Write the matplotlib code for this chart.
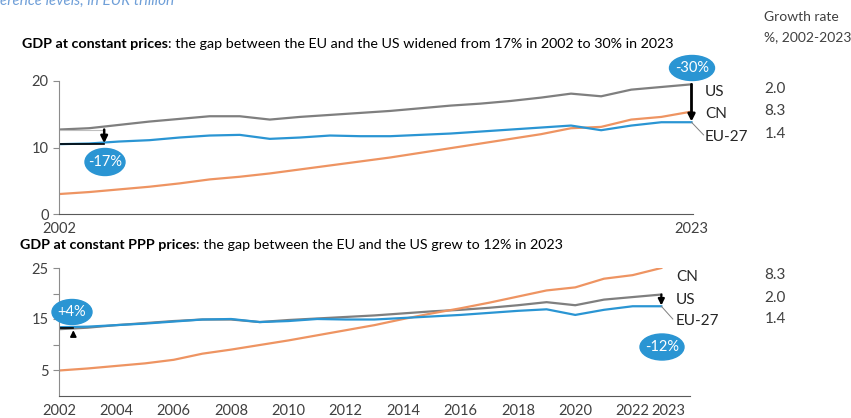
import matplotlib.pyplot as plt
from matplotlib.patches import Ellipse

plt.rcParams['font.family'] = ['Lato', 'DejaVu Sans']

years = list(range(2002, 2024))

# GDP at constant prices, EUR trillion
us_const = [12.7, 12.9, 13.4, 13.9, 14.3, 14.7, 14.7, 14.2, 14.6, 14.9, 15.2,
            15.5, 15.9, 16.3, 16.6, 17.0, 17.5, 18.1, 17.7, 18.7, 19.1, 19.5]
eu_const = [10.5, 10.6, 10.9, 11.1, 11.5, 11.8, 11.9, 11.3, 11.5, 11.8, 11.7,
            11.7, 11.9, 12.1, 12.4, 12.7, 13.0, 13.3, 12.6, 13.3, 13.8, 13.8]
cn_const = [3.0, 3.3, 3.7, 4.1, 4.6, 5.2, 5.6, 6.1, 6.7, 7.3, 7.9,
            8.5, 9.2, 9.9, 10.6, 11.3, 12.0, 12.9, 13.1, 14.2, 14.6, 15.4]

# GDP at constant PPP prices
us_ppp = [13.0, 13.3, 13.8, 14.2, 14.6, 14.9, 14.9, 14.4, 14.8, 15.1, 15.4,
          15.7, 16.1, 16.5, 16.8, 17.2, 17.7, 18.3, 17.7, 18.8, 19.3, 19.8]
eu_ppp = [13.4, 13.5, 13.8, 14.1, 14.5, 14.9, 15.0, 14.4, 14.6, 15.0, 14.9,
          14.9, 15.2, 15.5, 15.8, 16.2, 16.6, 16.9, 15.8, 16.8, 17.5, 17.5]
cn_ppp = [4.9, 5.3, 5.8, 6.3, 7.0, 8.2, 9.0, 9.9, 10.8, 11.8, 12.8,
          13.8, 15.0, 16.1, 17.1, 18.2, 19.4, 20.6, 21.2, 22.9, 23.6, 25.0]

growth_const = {"US": "2.0", "CN": "8.3", "EU-27": "1.4"}
growth_ppp = {"CN": "8.3", "US": "2.0", "EU-27": "1.4"}

C_US = "#7f7f7f"
C_EU = "#2a95d3"
C_CN = "#ee9462"
C_BUB = "#2a95d3"
C_TXT = "#262626"
C_TICK = "#404040"

fig = plt.figure(figsize=(8.51, 4.18), dpi=100)


def style_axis(ax):
    ax.spines['top'].set_visible(False)
    ax.spines['right'].set_visible(False)
    ax.spines['left'].set_color("#8c8c8c")
    ax.spines['bottom'].set_color("#595959")
    ax.tick_params(axis='y', colors="#8c8c8c", labelcolor=C_TICK, labelsize=10.5, length=4)
    ax.tick_params(axis='x', length=0, labelcolor=C_TICK, labelsize=10.5, pad=6)


def bubble(ax, x, y, text, w, h):
    ax.add_patch(Ellipse((x, y), w, h, transform=ax.transAxes, color=C_BUB,
                         clip_on=False, zorder=5))
    ax.text(x, y, text, transform=ax.transAxes, ha='center', va='center',
            color='white', fontsize=10.5, zorder=6)


def gap_arrow(ax, x, y_from, y_to, lw, ms=9):
    ax.annotate("", xy=(x, y_to), xytext=(x, y_from),
                arrowprops=dict(arrowstyle="-|>", color="black", lw=lw,
                                mutation_scale=ms, shrinkA=0, shrinkB=0))


# ---- top panel
ax1 = fig.add_axes([59 / 851, 1 - 214 / 418, (693 - 59) / 851, (214 - 81) / 418])
ax1.plot(years, us_const, color=C_US, lw=1.6)
ax1.plot(years, cn_const, color=C_CN, lw=1.6)
ax1.plot(years, eu_const, color=C_EU, lw=1.6)
ax1.set_xlim(2002, 2023.05)
ax1.set_ylim(0, 20)
ax1.set_yticks([0, 10, 20])
ax1.set_xticks([2002, 2023])
style_axis(ax1)

ax1.plot([2002, 2003.5], [us_const[0], us_const[0]], color="#bfbfbf", lw=0.8)
ax1.plot([2002, 2003.5], [eu_const[0], eu_const[0]], color="black", lw=1.2)
gap_arrow(ax1, 2003.5, us_const[0], eu_const[0] + 0.15, 1.8, 10)
gap_arrow(ax1, 2023, us_const[-1], eu_const[-1] + 0.1, 2.0, 10)
bubble(ax1, (105 - 59) / 634, (214 - 162) / 133, "-17%", 40 / 634, 27 / 133)
bubble(ax1, (692 - 59) / 634, (214 - 68) / 133, "-30%", 45 / 634, 25 / 133)

# series labels and growth rates, top panel
ax1.plot([2023, 2023.4], [eu_const[-1], eu_const[-1] - 1.9], color="#7f7f7f",
         lw=0.7, clip_on=False)
for lab, ypix in zip(["US", "CN", "EU-27"], [92, 114, 137]):
    ax1.text((705 - 59) / 634, (214 - ypix) / 133, lab, transform=ax1.transAxes,
             ha='left', va='center', fontsize=11, color=C_TXT)
    fig.text(775 / 851, 1 - (ypix - 3) / 418, growth_const[lab], ha='center',
             va='center', fontsize=11, color=C_TICK)

# ---- bottom panel
ax2 = fig.add_axes([59 / 851, 1 - 395.5 / 418, (690 - 59) / 851, (395.5 - 268) / 418])
ax2.plot(years, us_ppp, color=C_US, lw=1.6)
ax2.plot(years, cn_ppp, color=C_CN, lw=1.6)
ax2.plot(years, eu_ppp, color=C_EU, lw=1.6)
ax2.set_xlim(2002, 2024)
ax2.set_ylim(0, 25)
ax2.set_yticks([5, 10, 15, 20, 25])
ax2.set_yticklabels(["5", "", "15", "", "25"])
xt = list(range(2002, 2023, 2)) + [2023]
ax2.set_xticks(xt)
ax2.set_xticklabels([str(y) if y != 2023 else "" for y in xt])
style_axis(ax2)
# 2023 label nudged right so it does not touch 2022
ax2.text(2023.25, -0.07, "2023", transform=ax2.get_xaxis_transform(),
         ha='center', va='top', fontsize=10.5, color=C_TICK)

ax2.plot([2002, 2002.5], [eu_ppp[0] - 0.1, eu_ppp[0] - 0.1], color="black", lw=1.2)
gap_arrow(ax2, 2002.5, 12.0, us_ppp[0] - 0.2, 1.2)
gap_arrow(ax2, 2023, us_ppp[-1], eu_ppp[-1] + 0.15, 1.6)
bubble(ax2, (72 - 59) / 631, (395.5 - 312) / 127.5, "+4%", 40 / 631, 25 / 127.5)
bubble(ax2, (662 - 59) / 631, (395.5 - 347) / 127.5, "-12%", 44 / 631, 26 / 127.5)

ax2.plot([2023, 2023.4], [eu_ppp[-1], eu_ppp[-1] - 2.5], color="#7f7f7f",
         lw=0.7, clip_on=False)
for lab, ypix in zip(["CN", "US", "EU-27"], [277, 300, 321]):
    ax2.text((676 - 59) / 631, (395.5 - ypix) / 127.5, lab, transform=ax2.transAxes,
             ha='left', va='center', fontsize=11, color=C_TXT)
    fig.text(775 / 851, 1 - (ypix - 2) / 418, growth_ppp[lab], ha='center',
             va='center', fontsize=11, color=C_TICK)

# ---- titles and header texts
fig.text(0.0, 1 - 1 / 418, "erence levels, in EUR trillion", ha='left', va='center',
         fontsize=11, style='italic', color="#6f9fd8")
t1 = fig.text(22 / 851, 1 - 44 / 418, "GDP at constant prices", ha='left', va='center',
              fontsize=10.25, fontweight='bold', color="black")
fig.canvas.draw()
bb = t1.get_window_extent()
fig.text(bb.x1 / 851, 1 - 44 / 418,
         ": the gap between the EU and the US widened from 17% in 2002 to 30% in 2023",
         ha='left', va='center', fontsize=10.25, color="black")
t2 = fig.text(20 / 851, 1 - 245 / 418, "GDP at constant PPP prices", ha='left', va='center',
              fontsize=10.25, fontweight='bold', color="black")
fig.canvas.draw()
bb2 = t2.get_window_extent()
fig.text(bb2.x1 / 851, 1 - 245 / 418, ": the gap between the EU and the US grew to 12% in 2023",
         ha='left', va='center', fontsize=10.25, color="black")
fig.text(764 / 851, 1 - 17 / 418, "Growth rate", ha='left', va='center',
         fontsize=10, color=C_TICK)
fig.text(764 / 851, 1 - 37 / 418, "%, 2002-2023", ha='left', va='center',
         fontsize=10, color=C_TICK)

fig.savefig("out.png", dpi=100)
